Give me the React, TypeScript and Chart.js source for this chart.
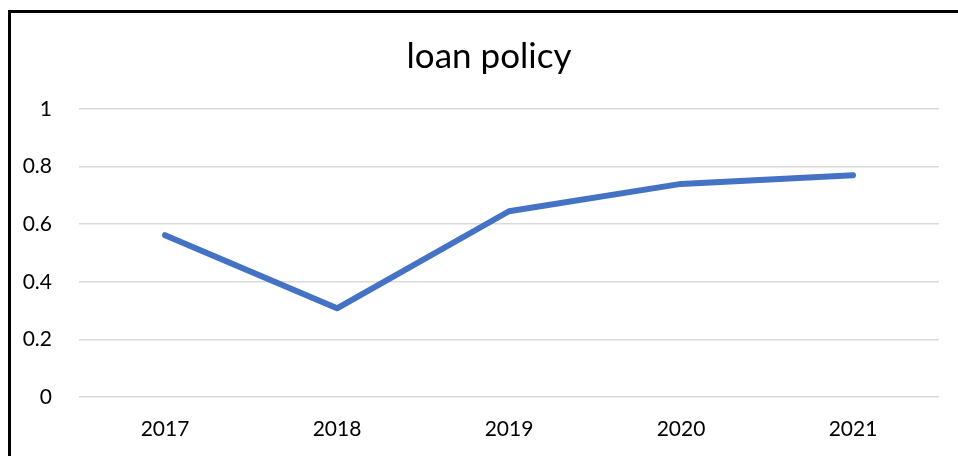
import React, { useEffect, useRef } from "react";
import { Chart, registerables } from "chart.js";

Chart.register(...registerables);

const categories = ["2017", "2018", "2019", "2020", "2021"];
const loanPolicy = [0.562, 0.308, 0.645, 0.74, 0.77];
const yTicks = [0, 0.2, 0.4, 0.6, 0.8, 1];
const titleText = "loan policy";

const titlePlugin = {
  id: "excelTitle",
  afterDraw(chart: any) {
    const ctx = chart.ctx;
    ctx.save();
    ctx.fillStyle = "#000";
    ctx.font = "35px Lato";
    ctx.textAlign = "center";
    ctx.textBaseline = "alphabetic";
    ctx.fillText(titleText, 489, 68);
    ctx.restore();
  },
};

export default function App() {
  const ref = useRef<HTMLCanvasElement | null>(null);
  useEffect(() => {
    if (!ref.current) return;
    const chart = new Chart(ref.current, {
      type: "line",
      data: {
        labels: categories,
        datasets: [
          {
            label: titleText,
            data: loanPolicy,
            borderColor: "#4472C4",
            backgroundColor: "#4472C4",
            borderWidth: 6,
            pointRadius: 0,
            borderCapStyle: "round",
            borderJoinStyle: "round",
            tension: 0,
          },
        ],
      },
      options: {
        responsive: false,
        animation: false,
        layout: { padding: { left: 0, right: 19, top: 109, bottom: 0 } },
        plugins: {
          legend: { display: false },
          tooltip: { enabled: false },
          title: { display: false },
        },
        scales: {
          x: {
            offset: true,
            grid: { display: false, drawTicks: false },
            border: { display: false },
            ticks: {
              color: "#000",
              font: { family: "Lato", size: 21 },
              padding: 20,
              maxRotation: 0,
            },
            afterFit: (s: any) => {
              s.height = 59;
            },
          },
          y: {
            min: 0,
            max: 1,
            afterBuildTicks: (s: any) => {
              s.ticks = yTicks.map((v) => ({ value: v }));
            },
            grid: { color: "#d9d9d9", lineWidth: 1.5, drawTicks: false },
            border: { display: false },
            ticks: {
              color: "#000",
              font: { family: "Lato", size: 21 },
              padding: 27,
              callback: (v: any) => String(Math.round(Number(v) * 10) / 10),
            },
            afterFit: (s: any) => {
              s.width = 79;
            },
          },
        },
      },
      plugins: [titlePlugin],
    });
    return () => chart.destroy();
  }, []);

  return (
    <div style={{ position: "absolute", left: 0, top: 0, width: 958, height: 456, overflow: "hidden", background: "#fff" }}>
      <div
        style={{
          position: "absolute",
          left: 8,
          top: 10,
          width: 1100,
          height: 1100,
          border: "3px solid #000",
          boxSizing: "border-box",
        }}
      />
      <canvas ref={ref} width={958} height={456} style={{ position: "absolute", left: 0, top: 0 }} />
    </div>
  );
}
